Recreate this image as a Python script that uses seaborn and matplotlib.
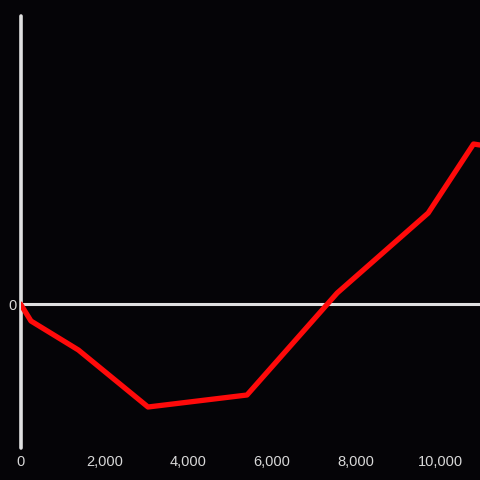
import matplotlib
matplotlib.use("Agg")
import matplotlib.pyplot as plt
import seaborn as sns
import pandas as pd

x_vals = [0, 250, 1380, 3040, 5400, 7550, 9720, 10800, 10950]
y_vals = [0, -17, -46, -103, -91, 11, 91, 160, 159]
x_ticks = [0, 2000, 4000, 6000, 8000, 10000]
x_labels = ["0", "2,000", "4,000", "6,000", "8,000", "10,000"]

sns.set_theme(style="dark")
plt.rcParams['font.family'] = ['Liberation Sans', 'DejaVu Sans']

bg = "#050407"
fig = plt.figure(figsize=(4.8, 4.8), dpi=100, facecolor=bg)
ax = fig.add_axes([20.5/480, 32/480, (480-20.5)/480, (448-16)/480])
ax.set_facecolor(bg)

df = pd.DataFrame({"x": x_vals, "y": y_vals})
sns.lineplot(data=df, x="x", y="y", ax=ax, color="#ff0a0a", linewidth=3.8,
             sort=False, zorder=3)

ax.set_xlim(0, 10955)
ax.set_ylim(-144, 288)
ax.axhline(0, color="#e0e0e0", linewidth=2.2, zorder=2)
ax.axvline(0, color="#e0e0e0", linewidth=2.6, zorder=2, clip_on=False)

for s in ax.spines.values():
    s.set_visible(False)
ax.grid(False)
ax.set_xticks(x_ticks)
ax.set_xticklabels(x_labels)
ax.set_yticks([0])
ax.set_yticklabels(["0"])
ax.tick_params(axis="both", length=0, colors="#d8d8d8", labelsize=10.5)
ax.tick_params(axis="x", pad=5)
ax.tick_params(axis="y", pad=3)
for lbl in ax.get_xticklabels():
    lbl.set_x(lbl.get_position()[0])
ax.set_xlabel("")
ax.set_ylabel("")

fig.savefig("out.png", dpi=100, facecolor=bg)
